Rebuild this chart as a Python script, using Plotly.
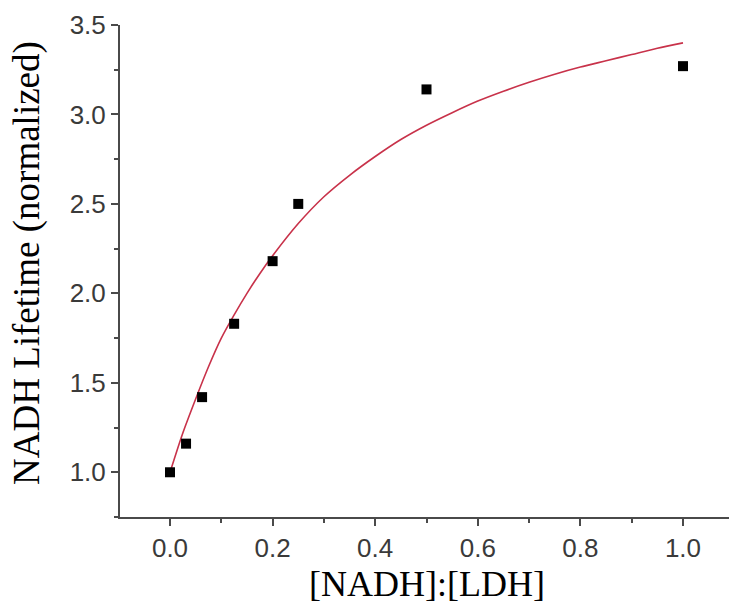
import plotly.graph_objects as go

# measured data points
ratio = [0.0, 0.03125, 0.0625, 0.125, 0.2, 0.25, 0.5, 1.0]
lifetime = [1.00, 1.16, 1.42, 1.83, 2.18, 2.50, 3.14, 3.27]

# fitted curve
fit_x = [0.0, 0.025, 0.05, 0.075, 0.1, 0.125, 0.15, 0.175, 0.2, 0.25, 0.3, 0.35, 0.4, 0.45, 0.5,
         0.55, 0.6, 0.65, 0.7, 0.75, 0.8, 0.85, 0.9, 0.95, 1.0]
fit_y = [1.00, 1.22, 1.41, 1.59, 1.75, 1.88, 2.00, 2.11, 2.21, 2.39, 2.54, 2.66, 2.765, 2.86, 2.94,
         3.01, 3.075, 3.13, 3.18, 3.225, 3.265, 3.30, 3.335, 3.37, 3.40]

x_ticks = [0.0, 0.2, 0.4, 0.6, 0.8, 1.0]
x_ticklabels = ["0.0", "0.2", "0.4", "0.6", "0.8", "1.0"]
y_ticks = [1.0, 1.5, 2.0, 2.5, 3.0, 3.5]
y_ticklabels = ["1.0", "1.5", "2.0", "2.5", "3.0", "3.5"]

fig = go.Figure()
fig.add_trace(go.Scatter(x=fit_x, y=fit_y, mode="lines",
                         line=dict(color="#c8324a", width=1.6, shape="spline", smoothing=0.8),
                         showlegend=False, hoverinfo="skip"))
fig.add_trace(go.Scatter(x=ratio, y=lifetime, mode="markers",
                         marker=dict(symbol="square", size=10, color="black"),
                         showlegend=False))

axis_common = dict(showline=True, linecolor="#4a4a4a", linewidth=2,
                   ticks="outside", ticklen=7, tickwidth=2, tickcolor="#4a4a4a",
                   showgrid=False, zeroline=False,
                   tickfont=dict(family="Liberation Sans, Arial", size=26, color="#3a3a3a"))

fig.update_xaxes(range=[-0.0975, 1.0897], tickvals=x_ticks, ticktext=x_ticklabels,
                 minor=dict(ticks="outside", ticklen=4, tickwidth=2, tickcolor="#4a4a4a",
                            dtick=0.1, tick0=-0.1, showgrid=False),
                 **axis_common)
fig.update_yaxes(range=[0.75, 3.5], tickvals=y_ticks, ticktext=y_ticklabels,
                 minor=dict(ticks="outside", ticklen=4, tickwidth=2, tickcolor="#4a4a4a",
                            dtick=0.25, tick0=0.75, showgrid=False),
                 **axis_common)

fig.add_annotation(text="[NADH]:[LDH]", xref="paper", yref="paper",
                   x=(427 - 120) / 609, y=-(584 - 517) / 492, xanchor="center", yanchor="middle",
                   showarrow=False,
                   font=dict(family="Liberation Serif, Times New Roman", size=36, color="black"))
fig.add_annotation(text="NADH Lifetime (normalized)", xref="paper", yref="paper",
                   x=-(120 - 27) / 609, y=(517 - 263) / 492, xanchor="center", yanchor="middle",
                   textangle=-90, showarrow=False,
                   font=dict(family="Liberation Serif, Times New Roman", size=37, color="black"))

fig.update_layout(width=729, height=604, margin=dict(l=120, r=0, t=25, b=87),
                  paper_bgcolor="white", plot_bgcolor="white")

fig.write_html("out.html")
